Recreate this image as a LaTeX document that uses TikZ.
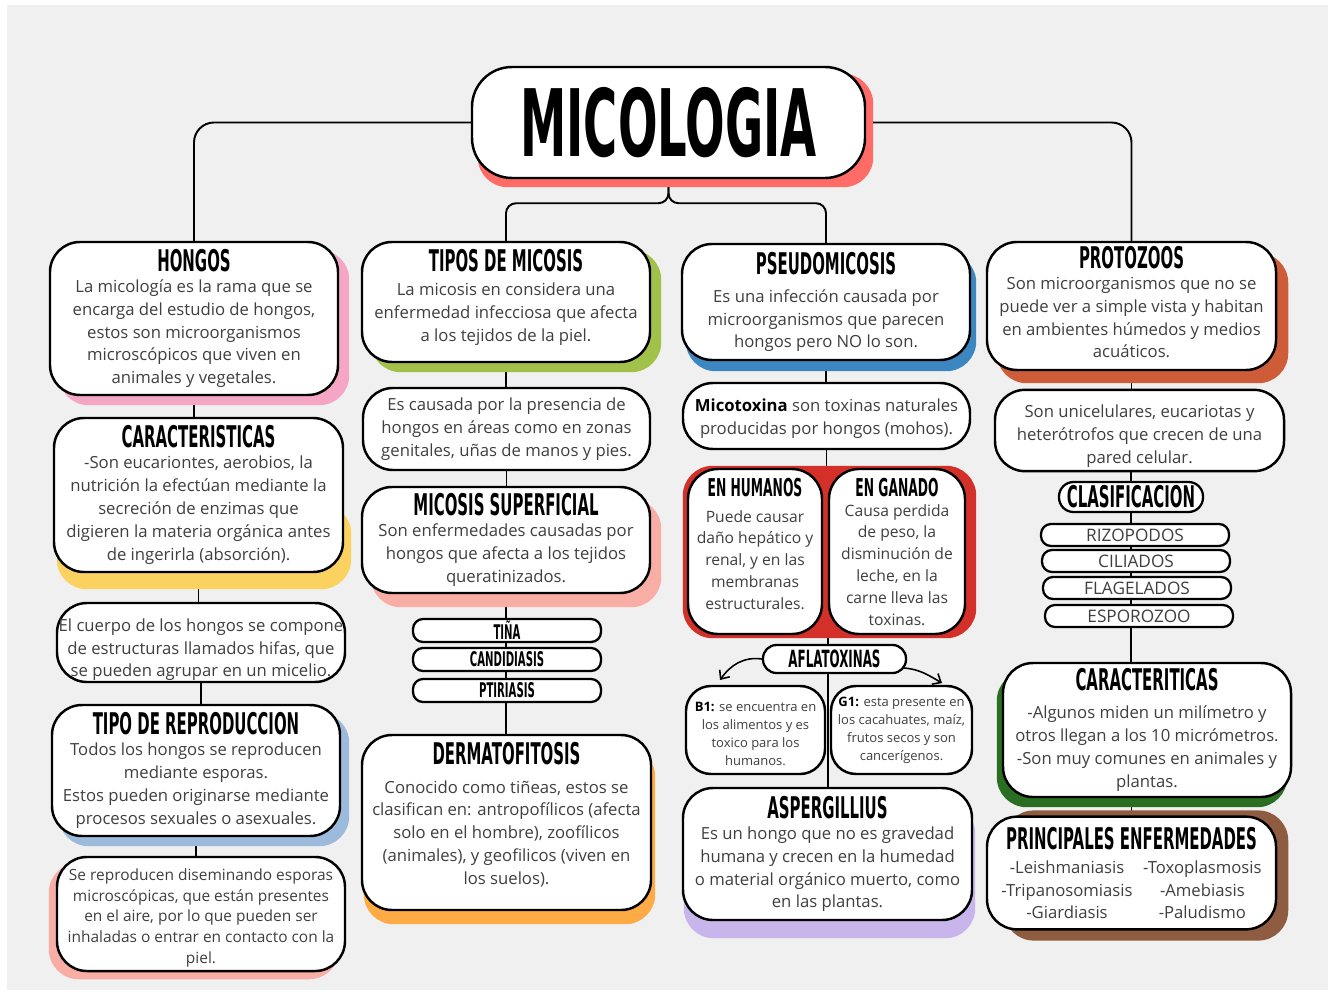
\documentclass[tikz,border=0pt]{standalone}
\usepackage{fontspec}
\setmainfont{Open Sans}
\newfontfamily\titf{DejaVu Sans}[FakeStretch=0.5]
\usetikzlibrary{calc,arrows.meta}
\definecolor{bgc}{HTML}{F0F0F0}
\definecolor{txt}{HTML}{3F3F3F}
\definecolor{micoc}{HTML}{FF6B66}
\definecolor{pinkc}{HTML}{F4A6C4}
\definecolor{yelc}{HTML}{FBD25F}
\definecolor{bluec}{HTML}{9CBADB}
\definecolor{salc}{HTML}{F8ADA5}
\definecolor{grnc}{HTML}{A2C14A}
\definecolor{orac}{HTML}{FFAB45}
\definecolor{dbluec}{HTML}{3C87C2}
\definecolor{redc}{HTML}{D3302A}
\definecolor{purc}{HTML}{C8B5EC}
\definecolor{rustc}{HTML}{CF5C38}
\definecolor{dgrnc}{HTML}{2A6E22}
\definecolor{brnc}{HTML}{8E5C40}
\pgfdeclarelayer{bgl}
\pgfdeclarelayer{conl}
\pgfdeclarelayer{shdl}
\pgfsetlayers{bgl,conl,shdl,main}
\newcommand\ttl[2][17]{{\fontsize{#1}{#1}\selectfont\titf\bfseries\color{black}#2}}
\newcommand\bodyf{\fontsize{9.5}{13}\selectfont}
\newcommand\smallbodyf{\fontsize{8.8}{11.9}\selectfont}
\newcommand\midbodyf{\fontsize{8.9}{12.4}\selectfont}
\newcommand\tinyf{\fontsize{7.4}{10.2}\selectfont}
\newcommand\pillf{\fontsize{9.8}{10}\selectfont}
\newcommand\padtop[1]{\rule{0pt}{#1}}
\newcommand\padbot[1]{\rule[-#1]{0pt}{0pt}}
\newcommand\shd[6]{\begin{pgfonlayer}{shdl}\fill[#2,rounded corners=0.6cm] ($(#1.north west)+(#3,#4)$) rectangle ($(#1.south east)+(#5,#6)$);\end{pgfonlayer}}
\tikzset{
  bx/.style={draw=black, line width=1.4pt, rounded corners=0.6cm, fill=white, align=center, inner xsep=1pt, inner ysep=2pt, font=\bodyf, text=txt},
  sz/.style 2 args={minimum width=#1*0.02cm, minimum height=#2*0.02cm},
  pill/.style={draw=black, line width=1.3pt, fill=white, inner sep=0pt, align=center, rounded corners=0.2cm},
  psz/.style 2 args={minimum width=#1*0.02cm, minimum height=#2*0.02cm},
  conn/.style={draw=black, line width=1.1pt},
  arr/.style={draw=black, line width=0.9pt, -{Straight Barb[length=4pt,width=7pt]}},
}
\begin{document}
\begin{tikzpicture}[x=0.02cm,y=-0.02cm]
\useasboundingbox (0,0) rectangle (1334,993);
\begin{pgfonlayer}{bgl}
\fill[white] (0,0) rectangle (1334,993);
\fill[bgc] (7,5) rectangle (1328,990);
\end{pgfonlayer}

% ---- title
\node[bx, sz={393}{111}, rounded corners=0.8cm] (mico) at (668.5,122.5) {\ttl[53]{MICOLOGIA}};
\shd{mico}{micoc}{7}{8}{7}{8}

% ---- column 1
\node[bx, sz={288}{153}] (hongos) at (194,318.5) {\ttl{HONGOS}\\[-1pt]
La micología es la rama que se\\ encarga del estudio de hongos,\\ estos son microorganismos\\ microscópicos que viven en\\ animales y vegetales.};
\shd{hongos}{pinkc}{10}{9}{10}{9}

\node[bx, sz={289}{154}] (carac) at (198.5,495) {\ttl{CARACTERISTICAS}\\[-1pt]
-Son eucariontes, aerobios, la\\ nutrición la efectúan mediante la\\ secreción de enzimas que\\ digieren la materia orgánica antes\\ de ingerirla (absorción).};
\shd{carac}{yelc}{4}{87}{7}{16}

\node[bx, sz={288}{79}, inner xsep=-4pt, inner ysep=0pt] (hifas) at (201,642.5) {\padtop{15.5pt}El cuerpo de los hongos se compone\\ de estructuras llamados hifas, que\\ se pueden agrupar en un micelio.};

\node[bx, sz={288}{131}] (tiporep) at (196,770.5) {\ttl{TIPO DE REPRODUCCION}\\[-1pt]
Todos los hongos se reproducen\\ mediante esporas.\\ Estos pueden originarse mediante\\ procesos sexuales o asexuales.};
\shd{tiporep}{bluec}{8}{9}{8}{9}

\node[bx, sz={288}{112}, font=\smallbodyf] (serep) at (201,914) {\padtop{11.2pt}Se reproducen diseminando esporas\\ microscópicas, que están presentes\\ en el aire, por lo que pueden ser\\ inhaladas o entrar en contacto con la\\ piel.};
\shd{serep}{salc}{-7}{7}{-7}{7}

% ---- column 2
\node[bx, sz={288}{120}] (tiposmic) at (506,302) {\ttl{TIPOS DE MICOSIS}\\[1pt]
La micosis en considera una\\ enfermedad infecciosa que afecta\\ a los tejidos de la piel.\padbot{7.8pt}};
\shd{tiposmic}{grnc}{10}{9}{10}{9}

\node[bx, sz={287}{82}] (escaus) at (506.5,429) {Es causada por la presencia de\\ hongos en áreas como en zonas\\ genitales, uñas de manos y pies.};

\node[bx, sz={288}{106}] (micsup) at (506,540) {\ttl{MICOSIS SUPERFICIAL}\\[-1pt]
Son enfermedades causadas por\\ hongos que afecta a los tejidos\\ queratinizados.};
\shd{micsup}{salc}{10}{13}{10}{13}

\node[pill, psz={188}{23}] (tina) at (507,630.5) {\ttl[11.5]{TIÑA}};
\node[pill, psz={188}{23}] (cand) at (507,659.5) {\ttl[11.5]{CANDIDIASIS}};
\node[pill, psz={188}{23}] (ptir) at (507,690.5) {\ttl[11.5]{PTIRIASIS}};

\node[bx, sz={289}{175}] (derm) at (506.5,822.5) {\ttl{DERMATOFITOSIS}\\[3pt]
Conocido como tiñeas, estos se\\ clasifican en: antropofílicos (afecta\\ solo en el hombre), zoofílicos\\ (animales), y geofilicos (viven en\\ los suelos).\padbot{10.1pt}};
\shd{derm}{orac}{3}{13}{3}{13}

% ---- column 3
\node[bx, sz={288}{116}] (pseudo) at (826,302) {\ttl{PSEUDOMICOSIS}\\[3pt]
Es una infección causada por\\ microorganismos que parecen\\ hongos pero NO lo son.};
\shd{pseudo}{dbluec}{5}{10}{5}{10}

\node[bx, sz={287}{66}] (micot) at (826.5,416) {\padtop{10.6pt}\textbf{\color{black}Micotoxina} son toxinas naturales\\ producidas por hongos (mohos).};

\node[bx, sz={134}{165}, font=\midbodyf] (hum) at (755,551.5) {\ttl[14]{EN HUMANOS}\\[2pt]
Puede causar\\ daño hepático y\\ renal, y en las\\ membranas\\ estructurales.\padbot{8.6pt}};
\node[bx, sz={136}{165}, font=\midbodyf] (gan) at (897,551.5) {\ttl[14]{EN GANADO}\\[-1pt]
Causa perdida\\ de peso, la\\ disminución de\\ leche, en la\\ carne lleva las\\ toxinas.};
\begin{pgfonlayer}{shdl}
\fill[redc, rounded corners=0.6cm] ($(hum.north west)+(-4,-2)$) rectangle ($(gan.south east)+(10,3)$);
\end{pgfonlayer}

\node[pill, psz={143}{28}, rounded corners=0.27cm] (afla) at (834.5,659) {\ttl[13.5]{AFLATOXINAS}};

\node[bx, sz={139}{88}, font=\tinyf, rounded corners=0.5cm] (b1) at (755.5,730) {\padtop{9.8pt}\textbf{\color{black}B1:} se encuentra en\\ los alimentos y es\\ toxico para los\\ humanos.};
\node[bx, sz={141}{88}, font=\tinyf, rounded corners=0.5cm] (g1) at (901.5,730) {\textbf{\color{black}G1:} esta presente en\\ los cacahuates, maíz,\\ frutos secos y son\\ cancerígenos.};

\node[bx, sz={289}{132}] (asp) at (827.5,854) {\ttl{ASPERGILLIUS}\\[-1pt]
Es un hongo que no es gravedad\\ humana y crecen en la humedad\\ o material orgánico muerto, como\\ en las plantas.};
\shd{asp}{purc}{2}{17}{2}{17}

\coordinate (ab1) at (720,680);
\coordinate (ag1) at (942,683);
\draw[arr] (afla.west) to[out=172,in=55] (ab1);
\draw[arr] ($(afla.east)+(-3,9)$) to[out=-5,in=150] (ag1);

% ---- column 4
\node[bx, sz={289}{128}] (proto) at (1131.5,306) {\ttl{PROTOZOOS}\\[-1pt]
Son microorganismos que no se\\ puede ver a simple vista y habitan\\ en ambientes húmedos y medios\\ acuáticos.\padbot{4.6pt}};
\shd{proto}{rustc}{11}{12}{11}{12}

\node[bx, sz={289}{77}] (unic) at (1139.5,430.5) {\padtop{14pt}Son unicelulares, eucariotas y\\ heterótrofos que crecen de una\\ pared celular.};

\node[pill, psz={144}{30}, rounded corners=0.29cm] (clasif) at (1131,497) {\ttl[17]{CLASIFICACION}};

\node[pill, psz={188}{22}, font=\pillf, text=txt] (rizo) at (1135,535) {RIZOPODOS};
\node[pill, psz={188}{22}, font=\pillf, text=txt] (cili) at (1136,561) {CILIADOS};
\node[pill, psz={188}{22}, font=\pillf, text=txt] (flag) at (1137,588) {FLAGELADOS};
\node[pill, psz={188}{22}, font=\pillf, text=txt] (espo) at (1139,616) {ESPOROZOO};

\node[bx, sz={288}{134}] (caract) at (1147,730) {\ttl{CARACTERITICAS}\\[3pt]
-Algunos miden un milímetro y\\ otros llegan a los 10 micrómetros.\\ -Son muy comunes en animales y\\ plantas.};
\shd{caract}{dgrnc}{-5}{9}{-5}{9}

\node[bx, sz={289}{110}] (princ) at (1131.5,873) {\padtop{16.9pt}\ttl{PRINCIPALES ENFERMEDADES}\\[3pt]
\setlength{\tabcolsep}{3pt}\begin{tabular}{@{}cc@{}}
-Leishmaniasis & -Toxoplasmosis\\
-Tripanosomiasis & -Amebiasis\\
-Giardiasis & -Paludismo
\end{tabular}};
\begin{pgfonlayer}{shdl}
\fill[brnc, rounded corners=0.6cm] ($(princ.north west)+(18,-5)$) rectangle ($(princ.south east)+(11,10)$);
\end{pgfonlayer}

% ---- connectors
\begin{pgfonlayer}{conl}
\draw[conn, rounded corners=0.4cm] (mico.west) -| (hongos.north);
\draw[conn, rounded corners=0.4cm] (mico.east) -| (proto.north);
\draw[conn, rounded corners=0.2cm] (mico.south) -- ($(mico.south)+(0,24)$) -| (tiposmic.north);
\draw[conn, rounded corners=0.2cm] (mico.south) -- ($(mico.south)+(0,24)$) -| (pseudo.north);
\draw[conn] (hongos.south) -- (hongos.south |- carac.north);
\draw[conn] (carac.south) -- (carac.south |- hifas.north);
\draw[conn] (hifas.south) -- (hifas.south |- tiporep.north);
\draw[conn] (tiporep.south) -- (tiporep.south |- serep.north);
\draw[conn] (tiposmic.south) -- (tiposmic.south |- escaus.north);
\draw[conn] (escaus.south) -- (escaus.south |- micsup.north);
\draw[conn] (micsup.south) -- (micsup.south |- derm.north);
\draw[conn] (pseudo.south) -- (pseudo.south |- micot.north);
\draw[conn] (micot.south) -- (micot.south |- hum.north);
\coordinate (mid) at ($(b1.east)!0.5!(g1.west)$);
\draw[conn] (mid |- hum.south) -- (mid |- asp.north);
\draw[conn] (proto.south) -- (proto.south |- unic.north);
\draw[conn] (clasif.north) -- (clasif.north |- unic.south);
\draw[conn] (clasif.south) -- (clasif.south |- caract.north);
\draw[conn] (princ.north) -- (princ.north |- caract.south);
\end{pgfonlayer}
\end{tikzpicture}
\end{document}
